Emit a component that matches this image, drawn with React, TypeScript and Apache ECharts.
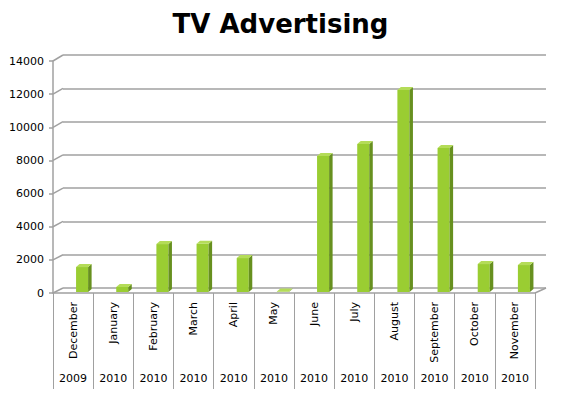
import React, { useEffect, useRef } from "react";
import * as echarts from "echarts";

const categories = [
  "December", "January", "February", "March", "April", "May",
  "June", "July", "August", "September", "October", "November",
];
const years = ["2009", "2010", "2010", "2010", "2010", "2010", "2010", "2010", "2010", "2010", "2010", "2010"];
const values = [1500, 300, 2880, 2900, 2040, 30, 8170, 8890, 12140, 8650, 1680, 1620];
const yMin = 0;
const yMax = 14000;
const yInterval = 2000;

const FRONT = { left: 53, top: 61, width: 482, height: 232 };
const BACK = { left: 63, top: 55, width: 483, height: 233 };
const BARS = { left: 62, top: 59, width: 482, height: 233 };

const FACE = "#9acd32";
const SIDE = "#67901f";
const TOPC = "#b4dc58";
const GRID_COLOR = "#a0a0a0";
const FONT = "DejaVu Sans";

export default function App() {
  const ref = useRef<HTMLDivElement>(null);
  useEffect(() => {
    if (!ref.current) return;
    const chart = echarts.init(ref.current, null, { renderer: "svg" });
    const gridOf = (g: any) => ({ left: g.left, top: g.top, width: g.width, height: g.height, containLabel: false });
    const option: any = {
      animation: false,
      backgroundColor: "#ffffff",
      title: {
        text: "TV Advertising",
        left: "center",
        top: 6,
        textStyle: { fontFamily: FONT, fontWeight: "bold", fontSize: 26, color: "#000" },
      },
      grid: [gridOf(FRONT), gridOf(BACK), gridOf(BARS)],
      xAxis: [
        {
          type: "category", gridIndex: 0, data: categories, position: "bottom",
          axisLine: { show: true, lineStyle: { color: GRID_COLOR, width: 1.5 } },
          axisTick: { show: true, interval: 0, length: 96, lineStyle: { color: "#a0a0a0", width: 1 } },
          axisLabel: { interval: 0, rotate: 90, margin: 9, fontFamily: FONT, fontSize: 11, color: "#000" },
          splitLine: { show: false },
        },
        {
          type: "category", gridIndex: 0, data: years, position: "bottom", offset: 72,
          axisLine: { show: false }, axisTick: { show: false },
          axisLabel: { interval: 0, margin: 8, fontFamily: FONT, fontSize: 11, color: "#000" },
        },
        { type: "category", gridIndex: 1, data: categories, show: false },
        { type: "category", gridIndex: 2, data: categories, show: false },
      ],
      yAxis: [
        {
          type: "value", gridIndex: 0, min: yMin, max: yMax, interval: yInterval,
          axisLine: { show: true, lineStyle: { color: GRID_COLOR, width: 1.5 } },
          axisTick: { show: true, length: 4, lineStyle: { color: GRID_COLOR, width: 1.5 } },
          axisLabel: { margin: 9, fontFamily: FONT, fontSize: 11, color: "#000", formatter: (v: number) => String(v) },
          splitLine: { show: false },
        },
        {
          type: "value", gridIndex: 1, min: yMin, max: yMax, interval: yInterval,
          axisLine: { show: false }, axisTick: { show: false }, axisLabel: { show: false },
          splitLine: { show: true, lineStyle: { color: GRID_COLOR, width: 1.5 } },
        },
        {
          type: "value", gridIndex: 2, min: yMin, max: yMax, interval: yInterval, show: false,
          splitLine: { show: false },
        },
      ],
      series: [
        {
          type: "custom",
          xAxisIndex: 3,
          yAxisIndex: 2,
          data: values.map((v, i) => [i, v]),
          renderItem: (_params: any, api: any) => {
            const idx = api.value(0);
            const v = api.value(1);
            const top = api.coord([idx, v]);
            const base = api.coord([idx, 0]);
            const band = api.size([1, 0])[0];
            const w = band * 0.3;
            const dx = 3.5;
            const dy = 3;
            const x0 = top[0] - w / 2;
            const x1 = top[0] + w / 2;
            return {
              type: "group",
              children: [
                { type: "rect", shape: { x: x0, y: top[1], width: w, height: base[1] - top[1] }, style: { fill: FACE } },
                {
                  type: "polygon",
                  shape: { points: [[x1, top[1]], [x1 + dx, top[1] - dy], [x1 + dx, base[1] - dy], [x1, base[1]]] },
                  style: { fill: SIDE },
                },
                {
                  type: "polygon",
                  shape: { points: [[x0, top[1]], [x0 + dx, top[1] - dy], [x1 + dx, top[1] - dy], [x1, top[1]]] },
                  style: { fill: TOPC },
                },
              ],
            };
          },
        },
      ],
    };
    chart.setOption(option);

    const ticks: number[] = [];
    for (let v = yMin; v <= yMax; v += yInterval) ticks.push(v);
    const lines: any[] = ticks.map((v) => {
      const yf = chart.convertToPixel({ yAxisIndex: 0 } as any, v) as unknown as number;
      const yb = chart.convertToPixel({ yAxisIndex: 1 } as any, v) as unknown as number;
      return {
        type: "line",
        shape: { x1: FRONT.left, y1: yf, x2: BACK.left, y2: yb },
        style: { stroke: GRID_COLOR, lineWidth: 1.5 },
        silent: true,
      };
    });
    const y0f = chart.convertToPixel({ yAxisIndex: 0 } as any, yMin) as unknown as number;
    const y0b = chart.convertToPixel({ yAxisIndex: 1 } as any, yMin) as unknown as number;
    lines.push({
      type: "line",
      shape: { x1: FRONT.left + FRONT.width, y1: y0f, x2: BACK.left + BACK.width, y2: y0b },
      style: { stroke: GRID_COLOR, lineWidth: 1.5 },
      silent: true,
    });
    chart.setOption({ graphic: lines });

    return () => chart.dispose();
  }, []);
  return <div ref={ref} style={{ width: 561, height: 397, position: "absolute", left: 0, top: 0 }} />;
}
